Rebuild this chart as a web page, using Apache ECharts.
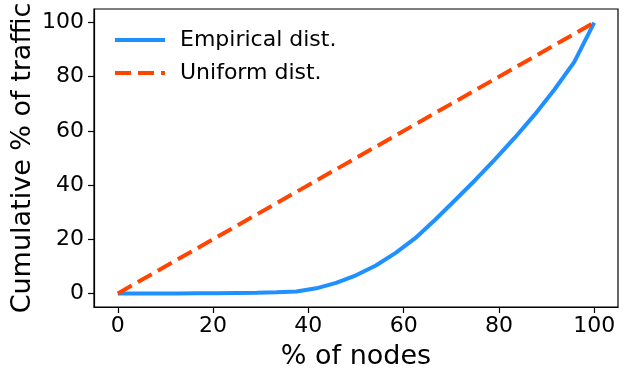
<!DOCTYPE html>
<html>
<head>
<meta charset="utf-8">
<script src="https://cdn.jsdelivr.net/npm/echarts@6/dist/echarts.min.js"></script>
<style>html,body{margin:0;padding:0;background:#fff}#c{width:628px;height:380px}</style>
</head>
<body>
<div id="c"></div>
<script>
const xNodes = [0, 4.17, 8.33, 12.5, 16.67, 20.83, 25, 29.17, 33.33, 37.5, 41.67, 45.83, 50, 54.17, 58.33, 62.5, 66.67, 70.83, 75, 79.17, 83.33, 87.5, 91.67, 95.83, 100];
const empirical = [0, 0, 0, 0, 0.05, 0.1, 0.2, 0.3, 0.45, 0.7, 1.9, 3.9, 6.7, 10.3, 15, 20.5, 27.3, 34.5, 41.8, 49.5, 57.5, 66, 75.3, 85.5, 100];
const uniformX = [0, 100];
const uniformY = [0, 100];
const xTicks = [0, 20, 40, 60, 80, 100];
const yTicks = [0, 20, 40, 60, 80, 100];
const seriesNames = ['Empirical dist.', 'Uniform dist.'];

const font = 'DejaVu Sans';
const chart = echarts.init(document.getElementById('c'), null, {renderer: 'canvas'});
chart.setOption({
  animation: false,
  backgroundColor: '#fff',
  grid: {left: 94, right: 10, top: 9, bottom: 73, containLabel: false, outerBoundsMode: 'none', show: true, borderColor: '#000', borderWidth: 1.2, backgroundColor: 'transparent'},
  legend: {
    left: 108, top: 24, orient: 'vertical', itemWidth: 50, itemHeight: 8, itemGap: 11,
    itemStyle: {opacity: 0},
    lineStyle: {width: 4},
    textStyle: {fontFamily: font, fontSize: 22, color: '#000', padding: [0, 0, 0, 10]},
    data: seriesNames
  },
  xAxis: {
    type: 'value', min: -5, max: 105,
    name: '% of nodes', nameLocation: 'middle', nameGap: 36,
    nameTextStyle: {fontFamily: font, fontSize: 27, color: '#000'},
    axisLine: {show: true, onZero: false, lineStyle: {color: '#000', width: 1.2}},
    axisTick: {show: true, length: 6, customValues: xTicks, lineStyle: {color: '#000', width: 1.2}},
    axisLabel: {customValues: xTicks, fontFamily: font, fontSize: 22, color: '#000', margin: 8},
    splitLine: {show: false}
  },
  yAxis: {
    type: 'value', min: -5, max: 105,
    name: 'Cumulative % of traffic', nameLocation: 'middle', nameGap: 58, nameMoveOverlap: false,
    nameTextStyle: {fontFamily: font, fontSize: 27, color: '#000'},
    axisLine: {show: true, onZero: false, lineStyle: {color: '#000', width: 1.2}},
    axisTick: {show: true, length: 6, customValues: yTicks, lineStyle: {color: '#000', width: 1.2}},
    axisLabel: {customValues: yTicks, fontFamily: font, fontSize: 22, color: '#000', margin: 10},
    splitLine: {show: false}
  },
  series: [
    {
      name: seriesNames[0], type: 'line', symbol: 'none',
      data: xNodes.map((x, i) => [x, empirical[i]]),
      lineStyle: {color: '#1E90FF', width: 4},
      itemStyle: {color: '#1E90FF'}
    },
    {
      name: seriesNames[1], type: 'line', symbol: 'none',
      data: uniformX.map((x, i) => [x, uniformY[i]]),
      lineStyle: {color: '#FF4500', width: 4, type: [16, 7]},
      itemStyle: {color: '#FF4500'}
    }
  ]
});
</script>
</body>
</html>
